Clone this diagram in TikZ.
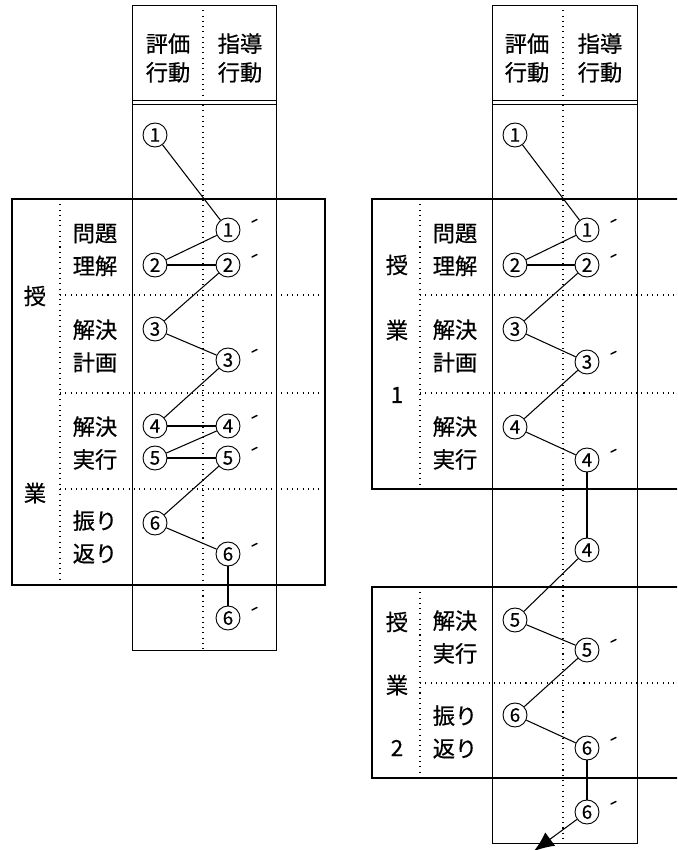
\documentclass[tikz,border=0pt]{standalone}
\usepackage{fontspec}
\newfontfamily\jpfont[FakeBold=0.6]{Noto Sans CJK JP}
\usepackage{tikz}
\usetikzlibrary{arrows.meta}

\begin{document}
\begin{tikzpicture}[
        x=0.03cm, y=-0.03cm,
        colbox/.style={line width=0.6pt},
        frame/.style={line width=1.8pt},
        dots/.style={line width=0.9pt, dash pattern=on 0.9pt off 3.6pt},
        head/.style={font=\jpfont\fontsize{19}{24.5}\selectfont, align=center, inner sep=0pt},
        stage/.style={font=\jpfont\fontsize{19}{28}\selectfont, align=center, inner sep=0pt},
        side/.style={font=\jpfont\fontsize{19}{20}\selectfont, inner sep=0pt},
        num/.style={circle, draw, line width=0.8pt, fill=white, minimum size=0.72cm, inner sep=0pt, font=\jpfont\fontsize{16}{16}\selectfont},
        link/.style={line width=0.9pt},
        tick/.style={line width=1.2pt, line cap=round}
    ]
        \clip (0,0) rectangle (677,850);
        \useasboundingbox (0,0) rectangle (677,850);

        % left: column of both behaviours
        \draw[colbox] (132,5) rectangle (276,650);
        \draw[colbox] (132,100) -- (276,100) (132,104) -- (276,104);
        \draw[dots] (203,5) -- (203,650);
        \node[head] at (168,58) {評価\\行動};
        \node[head] at (240,58) {指導\\行動};

        % left: lesson frame
        \draw[frame] (12,199) rectangle (325,585);
        \draw[dots] (60,199) -- (60,585);
        \foreach \y in {295,393,489}
            \draw[dots] (60,\y) -- (325,\y);
        \node[side] at (35,296) {授};
        \node[side] at (35,493) {業};
        \node[stage] at (95,250) {問題\\理解};
        \node[stage] at (95,346) {解決\\計画};
        \node[stage] at (95,443) {解決\\実行};
        \node[stage] at (95,537) {振り\\返り};

        \node[num] (Le1) at (155,135) {1};
        \node[num] (Lg1) at (228,230) {1};
        \node[num] (Le2) at (155,265) {2};
        \node[num] (Lg2) at (228,265) {2};
        \node[num] (Le3) at (155,329) {3};
        \node[num] (Lg3) at (228,360) {3};
        \node[num] (Le4) at (155,426) {4};
        \node[num] (Lg4) at (228,426) {4};
        \node[num] (Le5) at (155,458) {5};
        \node[num] (Lg5) at (228,458) {5};
        \node[num] (Le6) at (155,523) {6};
        \node[num] (Lg6) at (228,554) {6};
        \node[num] (Lh6) at (228,618) {6};

        \foreach \a/\b in {Le1/Lg1, Lg1/Le2, Le2/Lg2, Lg2/Le3, Le3/Lg3, Lg3/Le4,
                           Le4/Lg4, Lg4/Le5, Le5/Lg5, Lg5/Le6, Le6/Lg6, Lg6/Lh6}
            \draw[link] (\a) -- (\b);
        \foreach \n in {Lg1,Lg2,Lg3,Lg4,Lg5,Lg6,Lh6}
            \draw[tick] (\n.center) ++(24,-8) -- ++(5,-2.5);

        % right: column of both behaviours
        \draw[colbox] (492,5) rectangle (637,843);
        \draw[colbox] (492,100) -- (637,100) (492,104) -- (637,104);
        \draw[dots] (563,5) -- (563,843);
        \node[head] at (527,58) {評価\\行動};
        \node[head] at (600,58) {指導\\行動};

        % right: lesson 1
        \draw[frame] (372,199) rectangle (690,489);
        \draw[dots] (420,199) -- (420,489);
        \foreach \y in {295,393}
            \draw[dots] (420,\y) -- (690,\y);
        \node[side] at (397,265) {授};
        \node[side] at (397,330) {業};
        \node[side] at (397,395) {1};
        \node[stage] at (455,250) {問題\\理解};
        \node[stage] at (455,346) {解決\\計画};
        \node[stage] at (455,443) {解決\\実行};

        % right: lesson 2
        \draw[frame] (372,587) rectangle (690,778);
        \draw[dots] (420,587) -- (420,778);
        \draw[dots] (420,683) -- (690,683);
        \node[side] at (397,622) {授};
        \node[side] at (397,685) {業};
        \node[side] at (397,748) {2};
        \node[stage] at (455,637) {解決\\実行};
        \node[stage] at (455,732) {振り\\返り};

        \node[num] (Re1) at (515,135) {1};
        \node[num] (Rg1) at (587,230) {1};
        \node[num] (Re2) at (515,265) {2};
        \node[num] (Rg2) at (587,265) {2};
        \node[num] (Re3) at (515,329) {3};
        \node[num] (Rg3) at (587,362) {3};
        \node[num] (Re4) at (515,427) {4};
        \node[num] (Rg4) at (587,460) {4};
        \node[num] (Rm4) at (587,550) {4};
        \node[num] (Re5) at (515,620) {5};
        \node[num] (Rg5) at (587,650) {5};
        \node[num] (Re6) at (515,715) {6};
        \node[num] (Rg6) at (587,748) {6};
        \node[num] (Rh6) at (587,812) {6};
        \coordinate (Rnext) at (534,851);

        \foreach \a/\b in {Re1/Rg1, Rg1/Re2, Re2/Rg2, Rg2/Re3, Re3/Rg3, Rg3/Re4, Re4/Rg4,
                           Rg4/Rm4, Rm4/Re5, Re5/Rg5, Rg5/Re6, Re6/Rg6, Rg6/Rh6}
            \draw[link] (\a) -- (\b);
        \draw[link, -{Latex[length=0.6cm, width=0.5cm]}] (Rh6) -- (Rnext);
        \foreach \n in {Rg1,Rg2,Rg3,Rg4,Rg5,Rg6,Rh6}
            \draw[tick] (\n.center) ++(24,-8) -- ++(5,-2.5);
    \end{tikzpicture}
\end{document}
